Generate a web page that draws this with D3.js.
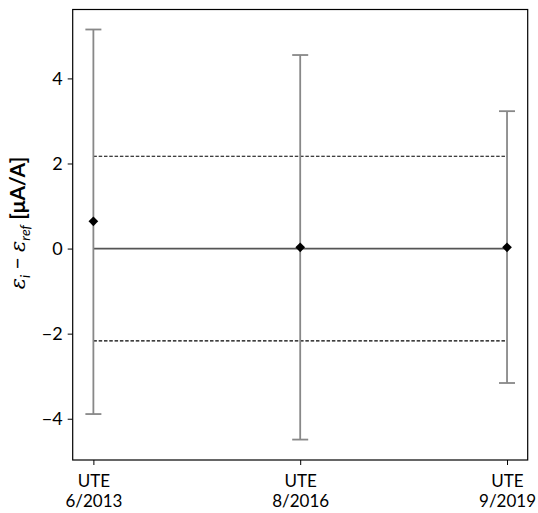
<!DOCTYPE html>
<html>
<head>
<meta charset="utf-8">
<script src="https://cdn.jsdelivr.net/npm/d3@7"></script>
<style>
  body { margin: 0; background: #fff; }
  text { font-family: Lato, "Open Sans", sans-serif; }
</style>
</head>
<body>
<script>
var categories = ["UTE\n6/2013", "UTE\n8/2016", "UTE\n9/2019"];
var values = [0.64, 0.03, 0.03];
var upper = [5.15, 4.55, 3.23];
var lower = [-3.89, -4.49, -3.16];
var limit = 2.17;
var yTicks = [-4, -2, 0, 2, 4];

var W = 538, H = 513;
var margin = { top: 9.5, right: 10.3, bottom: 53, left: 72.7 };

var svg = d3.select("body").append("svg")
    .attr("width", W)
    .attr("height", H);

var x = d3.scaleLinear()
    .domain([-0.1, 2.1])
    .range([margin.left, W - margin.right]);

var y = d3.scaleLinear()
    .domain([-4.97, 5.62])
    .range([H - margin.bottom, margin.top]);

// reference lines
var idx = d3.range(categories.length);
svg.append("line")
    .attr("x1", x(0)).attr("x2", x(2))
    .attr("y1", y(0)).attr("y2", y(0))
    .attr("stroke", "#555").attr("stroke-width", 1.6);

[limit, -limit].forEach(function(v) {
  svg.append("line")
      .attr("x1", x(0)).attr("x2", x(2))
      .attr("y1", y(v)).attr("y2", y(v))
      .attr("stroke", "#000").attr("stroke-width", 1.2)
      .attr("stroke-dasharray", "3.5,1.8");
});

// error bars
var bars = svg.append("g").attr("id", "bars");
bars.selectAll(".stem")
    .data(idx)
    .enter()
    .append("line")
      .attr("x1", function(i) { return x(i); })
      .attr("x2", function(i) { return x(i); })
      .attr("y1", function(i) { return y(upper[i]); })
      .attr("y2", function(i) { return y(lower[i]); })
      .attr("stroke", "#888").attr("stroke-width", 1.8);

[upper, lower].forEach(function(arr) {
  bars.selectAll(null)
      .data(idx)
      .enter()
      .append("line")
        .attr("x1", function(i) { return x(i) - 8; })
        .attr("x2", function(i) { return x(i) + 8; })
        .attr("y1", function(i) { return y(arr[i]); })
        .attr("y2", function(i) { return y(arr[i]); })
        .attr("stroke", "#888").attr("stroke-width", 1.8);
});

// points
svg.append("g").selectAll("path")
    .data(idx)
    .enter()
    .append("path")
      .attr("d", d3.symbol().type(d3.symbolDiamond2).size(60))
      .attr("transform", function(i) { return "translate(" + x(i) + "," + y(values[i]) + ")"; })
      .attr("fill", "#000");

// axes
var yAxis = svg.append("g")
    .attr("transform", "translate(" + margin.left + ",0)")
    .call(d3.axisLeft(y).tickValues(yTicks).tickSize(5).tickPadding(5)
      .tickFormat(function(d) { return d < 0 ? "\u2212" + Math.abs(d) : d; }));
yAxis.select(".domain").remove();
yAxis.selectAll("text").attr("font-size", 18).attr("fill", "#000")
    .attr("font-family", "Lato, sans-serif");
yAxis.selectAll("line").attr("stroke", "#000");

var xAxis = svg.append("g")
    .attr("transform", "translate(0," + (H - margin.bottom) + ")")
    .call(d3.axisBottom(x).tickValues(idx).tickSize(5).tickFormat(""));
xAxis.select(".domain").remove();
xAxis.selectAll("line").attr("stroke", "#000");
xAxis.selectAll(".tick").each(function(i) {
  var t = d3.select(this).append("text")
      .attr("text-anchor", "middle")
      .attr("fill", "#000")
      .attr("font-size", 17);
  categories[i].split("\n").forEach(function(s, k) {
    t.append("tspan").attr("x", 0).attr("y", 27 + k * 20).text(s);
  });
});

// frame
svg.append("rect")
    .attr("x", margin.left).attr("y", margin.top)
    .attr("width", W - margin.left - margin.right)
    .attr("height", H - margin.top - margin.bottom)
    .attr("fill", "none").attr("stroke", "#000").attr("stroke-width", 1.2);

// y label
var lab = svg.append("text")
    .attr("transform", "translate(25," + 223 + ") rotate(-90)")
    .attr("text-anchor", "middle")
    .attr("font-size", 21)
    .attr("fill", "#000");
lab.append("tspan").attr("font-family", "DejaVu Serif, serif").attr("font-style", "italic").text("\u03b5");
lab.append("tspan").attr("font-size", 14).attr("dy", 5).attr("font-style", "italic").text("i");
lab.append("tspan").attr("dy", -5).text(" \u2212 ");
lab.append("tspan").attr("font-family", "DejaVu Serif, serif").attr("font-style", "italic").text("\u03b5");
lab.append("tspan").attr("font-size", 14).attr("dy", 5).attr("font-style", "italic").text("ref");
lab.append("tspan").attr("dy", -5).attr("font-weight", "bold").text(" [\u03bcA/A]");
</script>
</body>
</html>
